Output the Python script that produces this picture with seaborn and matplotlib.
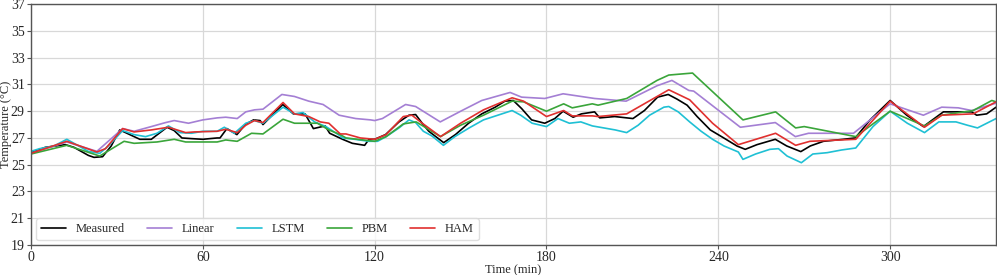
import pandas as pd
import numpy as np
import matplotlib
matplotlib.use("Agg")
import matplotlib.pyplot as plt
import seaborn as sns

# values (time in min, temperature in degC)
t_measured = [0, 5, 12, 15, 20, 22, 25, 28, 31, 35, 38, 42, 47.5, 50, 52.7, 56, 60, 65, 66, 68.4, 71.9,
              74.8, 77.7, 80, 81, 87.9, 91.6, 95.7, 98.6, 102.7, 104.3, 108.8, 112.2, 116.5, 118, 120,
              123.8, 128.5, 132, 134.3, 136.6, 138.9, 144.1, 148.2, 152.8, 157.4, 162.1, 165.5, 168.4,
              171.3, 174.8, 179.4, 182.9, 185.8, 189.3, 192.2, 196.8, 198.6, 203.8, 210.2, 214.2, 218.8,
              222.5, 225.6, 229.1, 232.6, 237.2, 241.9, 246.5, 249.4, 253.5, 259.9, 263.9, 268.8, 272.1,
              276.7, 283.7, 287.8, 293, 300, 305.8, 311.6, 318.6, 323.3, 328.5, 330.2, 333.7, 337]
measured = [25.9, 26.3, 26.5, 26.3, 25.7, 25.55, 25.6, 26.4, 27.6, 27.2, 26.9, 26.9, 27.8, 27.55, 27.0,
            26.95, 26.9, 27.0, 27.0, 27.7, 27.25, 28.0, 28.35, 28.3, 28.0, 29.5, 28.8, 28.8, 27.7, 27.9,
            27.35, 26.9, 26.6, 26.45, 26.9, 26.9, 27.25, 28.2, 28.7, 28.75, 28.1, 27.5, 26.65, 27.25,
            28.1, 28.8, 29.3, 29.75, 29.8, 29.2, 28.35, 28.1, 28.45, 29.0, 28.55, 28.8, 28.95, 28.5,
            28.6, 28.45, 29.05, 30.05, 30.25, 29.9, 29.45, 28.6, 27.6, 27.0, 26.4, 26.15, 26.5, 26.9,
            26.4, 25.98, 26.4, 26.75, 26.9, 27.0, 28.35, 29.8, 28.7, 27.85, 28.95, 28.95, 28.95, 28.7,
            28.8, 29.3]

t_linear = [0, 12.5, 23, 32, 36, 42, 47, 50, 55, 60, 65, 68, 72, 75, 78, 81, 87.6, 92, 97, 102, 107.6,
            113.4, 118.6, 120, 122.7, 130.8, 134.3, 142.9, 150.5, 157.4, 167.3, 171.3, 179.4, 185.8,
            196.8, 207.8, 218.6, 223.8, 229.7, 231.4, 247.7, 259.9, 266.9, 271.5, 287.2, 300, 311.6,
            318, 323.8, 328.5, 337]
linear = [25.85, 26.7, 26.0, 27.7, 27.5, 27.85, 28.15, 28.3, 28.1, 28.35, 28.5, 28.55, 28.45, 28.95, 29.1,
          29.15, 30.25, 30.1, 29.75, 29.5, 28.7, 28.45, 28.35, 28.3, 28.45, 29.5, 29.35, 28.2, 29.05, 29.8,
          30.4, 30.05, 29.95, 30.3, 29.95, 29.75, 30.9, 31.3, 30.55, 30.5, 27.8, 28.15, 27.1, 27.35,
          27.35, 29.55, 28.7, 29.3, 29.25, 29.05, 29.6]

t_lstm = [0, 3, 8, 12.5, 15, 20, 24, 27, 32, 36, 40, 44, 48, 52, 56, 60, 65, 67.5, 71, 75, 78, 81, 88, 92,
          95, 99, 103, 108, 108.8, 113, 118, 121, 124, 128.5, 132, 134.3, 137, 140, 144, 148, 153, 158,
          163, 168, 171, 175, 180, 184, 188, 192, 196, 200, 204, 208, 212, 216, 221, 222.7, 226, 230,
          234, 238, 242, 247, 248.6, 253, 258, 261, 264, 269, 273, 278, 283, 288, 294, 300, 306, 312,
          317, 323, 327, 330.5, 337]
lstm = [26.0, 26.2, 26.4, 26.9, 26.6, 26.0, 25.85, 26.4, 27.55, 27.25, 27.1, 27.35, 27.9, 27.4, 27.35,
        27.5, 27.5, 27.8, 27.35, 28.1, 28.3, 28.1, 29.3, 28.8, 28.9, 28.2, 27.85, 27.15, 27.0, 26.9,
        26.75, 26.75, 27.1, 27.75, 28.35, 28.15, 27.5, 27.15, 26.45, 27.1, 27.75, 28.35, 28.7, 29.05,
        28.7, 28.1, 27.85, 28.45, 28.1, 28.2, 27.9, 27.75, 27.6, 27.4, 27.95, 28.7, 29.3, 29.35, 28.95,
        28.2, 27.5, 26.9, 26.4, 25.95, 25.4, 25.8, 26.15, 26.2, 25.65, 25.15, 25.8, 25.9, 26.1, 26.25,
        27.85, 29.0, 28.1, 27.4, 28.2, 28.2, 27.95, 27.75, 28.45]

t_pbm = [0, 12.5, 24, 32.5, 36, 44, 50, 54, 65, 68, 72, 77, 81, 88, 92, 100, 104, 108, 110, 120, 124, 130,
         134.5, 143, 150, 158, 168, 172, 180, 186, 189, 196, 198, 208, 218.6, 222.7, 231, 232, 248.6,
         260, 267, 270, 288, 300, 312, 318, 329, 335.5, 337]
pbm = [25.8, 26.45, 25.65, 26.75, 26.6, 26.7, 26.9, 26.7, 26.7, 26.85, 26.75, 27.35, 27.3, 28.4, 28.1,
       28.1, 27.6, 27.25, 27.0, 26.75, 27.1, 28.05, 28.2, 27.1, 27.95, 28.7, 29.75, 29.7, 29.0, 29.55,
       29.25, 29.55, 29.45, 29.95, 31.3, 31.7, 31.85, 31.65, 28.35, 28.95, 27.75, 27.85, 27.1, 29.0,
       27.9, 28.7, 29.05, 29.8, 29.7]

t_ham = [0, 12.5, 23, 26, 32, 36, 42, 48, 54, 57, 65, 68, 72, 75, 78, 81, 88, 92, 97, 101, 104, 108, 110,
         115, 120, 124, 130, 133, 136, 143, 150, 158, 168, 172, 180, 186, 189, 196, 198, 208, 222.7, 230,
         238, 247, 260, 267, 272, 288, 300, 312, 318, 329, 337]
ham = [25.85, 26.75, 25.95, 26.2, 27.7, 27.45, 27.6, 27.8, 27.4, 27.45, 27.5, 27.65, 27.4, 27.95, 28.3,
       28.15, 29.65, 28.8, 28.6, 28.2, 28.1, 27.3, 27.3, 27.0, 26.9, 27.25, 28.6, 28.7, 28.2, 27.1, 28.1,
       29.1, 30.0, 29.75, 28.6, 29.05, 28.65, 28.65, 28.6, 28.8, 30.6, 29.85, 28.1, 26.5, 27.35, 26.45,
       26.75, 26.9, 29.75, 27.8, 28.7, 28.8, 29.7]

series = {
    "Measured": (t_measured, measured),
    "Linear": (t_linear, linear),
    "LSTM": (t_lstm, lstm),
    "PBM": (t_pbm, pbm),
    "HAM": (t_ham, ham),
}
palette = {"Measured": "black", "Linear": "#a47fd4", "LSTM": "#1fc0d4",
           "PBM": "#3aa53a", "HAM": "#e0302f"}

frames = []
for name, (tt, vv) in series.items():
    frames.append(pd.DataFrame({"Time": tt, "Temp": vv, "Model": name}))
df = pd.concat(frames, ignore_index=True)

sns.set_style("ticks")
plt.rcParams["font.family"] = ["Liberation Serif", "DejaVu Serif"]

fig = plt.figure(figsize=(9.97, 2.75), dpi=100)
ax = fig.add_axes([0.0311, 0.109, 0.968, 0.876])

sns.lineplot(data=df, x="Time", y="Temp", hue="Model", palette=palette,
             estimator=None, sort=False, linewidth=1.2, ax=ax)

ax.set_xlim(0, 337)
ax.set_ylim(19, 37)
ax.set_xticks(np.arange(0, 301, 60))
ax.set_yticks(np.arange(19, 38, 2))
ax.grid(True, color="#d8d8d8", linewidth=0.9)
ax.set_axisbelow(True)
for s in ax.spines.values():
    s.set_color("#555555")
    s.set_linewidth(1.0)
ax.tick_params(labelsize=10, length=3, color="#555555", pad=1.5)
ax.set_xlabel("Time (min)", fontsize=9, labelpad=0)
ax.set_ylabel("Temperature (°C)", fontsize=9, labelpad=-1)

ax.legend(loc="lower left", ncol=5, fontsize=9, handlelength=2.0, columnspacing=1.75,
          borderaxespad=0.4, frameon=True, edgecolor="#d8d8d8", fancybox=True)

fig.savefig("out.png", dpi=100)
